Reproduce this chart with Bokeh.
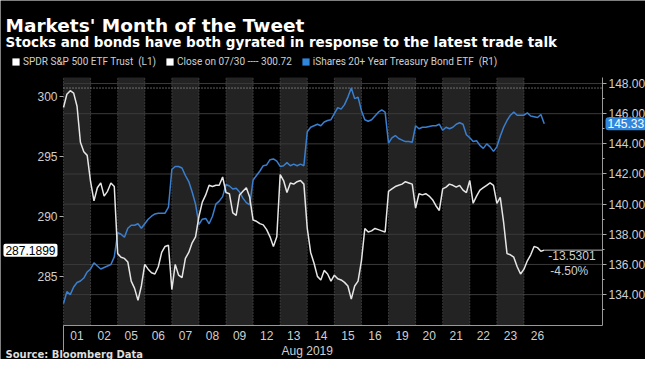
from bokeh.plotting import figure
from bokeh.models import (Range1d, LinearAxis, FixedTicker, BoxAnnotation, Label, Legend,
                          LegendItem, NumeralTickFormatter)
from bokeh.core.properties import value
from bokeh.embed import file_html
from bokeh.resources import INLINE

# ---------------- data ----------------
days = ["01", "02", "05", "06", "07", "08", "09", "12", "13", "14",
        "15", "16", "19", "20", "21", "22", "23", "26"]
month_label = "Aug 2019"
pts_per_day = 8          # intraday samples per trading day

# SPDR S&P 500 ETF Trust (left axis), 8 samples per day, last day partial
spy = [
    299.1, 300.2, 300.5, 300.3, 299.2, 296.2, 295.4, 295.1,   # 01
    292.9, 291.3, 292.4, 292.8, 291.7, 292.1, 292.8, 292.5,   # 02
    286.9, 286.6, 286.5, 286.2, 284.6, 284.0, 283.0, 284.2,   # 05
    286.0, 285.6, 285.3, 285.2, 285.8, 287.0, 287.5, 287.6,   # 06
    283.9, 286.0, 285.1, 284.9, 286.5, 287.0, 287.8, 288.3,   # 07
    290.0, 291.2, 291.8, 292.6, 292.5, 292.6, 292.6, 293.3,   # 08
    292.0, 291.9, 290.3, 290.1, 291.8, 292.1, 292.4, 291.6,   # 09
    289.7, 289.6, 289.4, 289.3, 288.9, 288.3, 287.5, 288.3,   # 12
    293.5, 293.0, 292.0, 292.8, 292.7, 292.9, 293.0, 292.7,   # 13
    289.0, 287.0, 286.1, 285.0, 284.7, 285.5, 285.2, 284.6,   # 14
    285.1, 284.8, 284.7, 284.5, 284.2, 283.1, 284.2, 284.6,   # 15
    286.3, 289.0, 288.7, 288.8, 289.0, 288.9, 288.8, 288.7,   # 16
    292.1, 292.3, 292.5, 292.6, 292.7, 292.9, 292.8, 292.7,   # 19
    290.7, 291.9, 291.8, 291.9, 291.7, 291.4, 290.9, 290.5,   # 20
    292.3, 292.45, 292.7, 292.6, 292.45, 292.6, 292.2, 292.0, # 21
    293.0, 291.1, 291.7, 292.2, 292.4, 292.6, 292.8, 292.6,   # 22
    291.1, 291.6, 289.5, 286.9, 286.8, 286.6, 285.8, 285.2,   # 23
    285.6, 286.3, 286.8, 287.5, 287.4, 287.1, 287.1899,       # 26
]

# iShares 20+ Year Treasury Bond ETF (right axis)
tlt = [
    133.4, 134.2, 134.0, 134.5, 134.8, 134.9, 135.1, 135.5,   # 01
    135.7, 136.1, 135.9, 135.7, 135.8, 135.9, 136.0, 136.5,   # 02
    138.1, 138.0, 137.8, 138.4, 138.6, 138.6, 138.7, 138.4,   # 05
    138.7, 139.0, 139.2, 139.35, 139.4, 139.4, 139.4, 139.8,  # 06
    142.3, 142.5, 142.5, 142.4, 141.9, 141.5, 140.8, 140.0,   # 07
    138.65, 139.0, 139.05, 138.7, 139.2, 140.0, 140.2, 140.5, # 08
    141.3, 141.2, 141.0, 141.05, 140.8, 140.4, 140.1, 139.95, # 09
    141.6, 141.9, 142.2, 142.55, 142.6, 142.95, 143.0, 142.85, # 12
    142.5, 142.55, 142.75, 142.55, 142.65, 142.55, 142.65, 142.55, # 13
    144.8, 145.1, 145.2, 145.3, 145.2, 145.45, 145.55, 145.6, # 14
    146.0, 146.4, 146.3, 146.6, 147.1, 147.7, 147.0, 147.1,   # 15
    146.2, 145.6, 145.5, 145.6, 145.85, 146.1, 146.25, 146.1, # 16
    144.05, 144.4, 144.55, 144.35, 144.25, 144.15, 144.15, 144.1, # 19
    145.2, 145.0, 145.1, 145.1, 145.15, 145.2, 145.2, 145.3,  # 20
    144.9, 145.1, 145.0, 145.1, 145.3, 145.4, 145.3, 144.6,   # 21
    144.4, 144.15, 144.2, 143.9, 143.7, 144.0, 143.8, 143.5,  # 22
    143.8, 144.5, 145.1, 145.55, 145.9, 146.1, 145.9, 145.9,  # 23
    145.9, 146.05, 145.85, 145.8, 145.75, 145.95, 145.33,     # 26
]

close_ref = 300.72
close_label = "Close on 07/30 ---- 300.72"
spy_label = "SPDR S&P 500 ETF Trust  (L1)"
tlt_label = "iShares 20+ Year Treasury Bond ETF  (R1)"
left_ticks = [285, 290, 295, 300]
right_ticks = [134, 136, 138, 140, 142, 144, 146, 148]
right_minor = [133, 135, 137, 139, 141, 143, 145, 147]

title_text = "Markets' Month of the Tweet"
subtitle_text = "Stocks and bonds have both gyrated in response to the latest trade talk"
source_text = "Source: Bloomberg Data"

# ---------------- layout (pixels) ----------------
W, H = 645, 359
X0, X1, Y0, Y1 = 63, 602, 77, 325          # plot area inside the canvas
xl, xh = 0, 19.9                            # day-index extent of plot area
ll, lh = 280.9, 301.6                       # left axis extent
rl, rh = 131.95, 148.4                      # right axis extent
kx = (xh - xl) / (X1 - X0)
kl = (lh - ll) / (Y1 - Y0)
kr = (rh - rl) / (Y1 - Y0)

# ---------------- derived ----------------
x = [i // pts_per_day + (i % pts_per_day) / pts_per_day for i in range(len(spy))]
last_x, last_spy, last_tlt = x[-1], spy[-1], tlt[-1]
diff = last_spy - close_ref
pct = diff / close_ref * 100
n = len(days)
NaN = float("nan")

WHITE = "#e6e6e6"
BLUE = "#3a7fcf"
TXT = "#cfcfcf"
TICKFONT = "Liberation Sans"

p = figure(width=W, height=H, output_backend="svg", toolbar_location=None, title=None,
           x_range=Range1d(xl - X0 * kx, xh + (W - X1) * kx),
           y_range=Range1d(ll - (H - Y1) * kl, lh + Y0 * kl),
           min_border=0, background_fill_color="black", border_fill_color="black",
           outline_line_color=None)
p.extra_y_ranges = {"r": Range1d(rl - (H - Y1) * kr, rh + Y0 * kr)}
p.grid.visible = False

# alternating day bands
for i in range(0, n, 2):
    p.add_layout(BoxAnnotation(left=i, right=i + 1, bottom=ll, top=lh, fill_color="#232323",
                               fill_alpha=1.0, line_color=None, level="underlay"))

# horizontal grid on right-axis ticks, vertical dotted day separators
p.segment(x0=[xl] * len(right_ticks), x1=[xh] * len(right_ticks), y0=right_ticks,
          y1=right_ticks, y_range_name="r", line_color="#3a3a3a", line_width=1)
p.segment(x0=list(range(n)), x1=list(range(n)), y0=[ll] * n, y1=[lh] * n,
          line_color="#5a5a5a", line_dash="1 2", line_width=1)

# close reference line
p.segment(x0=[xl], x1=[xh], y0=[close_ref], y1=[close_ref], line_color="#bdbdbd",
          line_dash="1 2", line_width=1)

# series
p.line(x, tlt, y_range_name="r", line_color=BLUE, line_width=1.5)
p.line(x, spy, line_color=WHITE, line_width=1.5)

# change annotation
p.segment(x0=[last_x], x1=[xh], y0=[last_spy], y1=[last_spy], line_color="#bbbbbb", line_width=1)
p.text(x=[last_x], y=[last_spy], text=[f"{diff:.4f}"], x_offset=4, y_offset=1,
       text_baseline="top", text_align="left", text_color=TXT, text_font_size="12px",
       text_font=value(TICKFONT))
p.text(x=[last_x], y=[last_spy], text=[f"{pct:.2f}%"], x_offset=6, y_offset=14,
       text_baseline="top", text_align="left", text_color=TXT, text_font_size="12px",
       text_font=value(TICKFONT))

# x axis (fixed at the plot bottom)
xa = p.xaxis[0]
xa.fixed_location = ll
xa.bounds = (xl, xh)
xa.ticker = FixedTicker(ticks=[i + 0.5 for i in range(n)])
xa.major_label_overrides = {i + 0.5: d for i, d in enumerate(days)}
xa.major_tick_out = 0
xa.major_tick_in = 0
xa.minor_tick_out = 0
xa.minor_tick_in = 0
xa.axis_line_color = "#999999"
xa.major_label_text_color = TXT
xa.major_label_text_font = TICKFONT
xa.major_label_text_font_size = "12px"
xa.major_label_standoff = 5

# long month-start tick
mt = LinearAxis(fixed_location=ll, bounds=(xl, xh), ticker=FixedTicker(ticks=[xl]),
                major_label_overrides={xl: ""}, major_tick_out=26, major_tick_in=0,
                minor_tick_out=0, axis_line_color=None, major_tick_line_color="#999999")
p.add_layout(mt, "below")

# left axis
ya = p.yaxis[0]
ya.fixed_location = xl
ya.bounds = (ll, lh)
ya.ticker = FixedTicker(ticks=left_ticks)
ya.axis_line_color = None
ya.major_tick_out = 4
ya.major_tick_in = 0
ya.minor_tick_out = 0
ya.major_tick_line_color = "#aaaaaa"
ya.major_label_text_color = TXT
ya.major_label_text_font = TICKFONT
ya.major_label_text_font_size = "12px"
ya.major_label_standoff = 2

# right axis
ra = LinearAxis(y_range_name="r", fixed_location=xh, bounds=(rl, rh),
                ticker=FixedTicker(ticks=right_ticks, minor_ticks=right_minor),
                formatter=NumeralTickFormatter(format="0.00"))
ra.axis_line_color = "#999999"
ra.major_tick_out = 4
ra.major_tick_in = 0
ra.minor_tick_out = 2
ra.minor_tick_in = 0
ra.major_tick_line_color = "#aaaaaa"
ra.minor_tick_line_color = "#aaaaaa"
ra.major_label_text_color = TXT
ra.major_label_text_font = TICKFONT
ra.major_label_text_font_size = "12px"
ra.major_label_standoff = 2
p.add_layout(ra, "right")

# legend (square swatches; placeholder NaN rows draw nothing in the plot)
sw_spy = p.quad(left=[NaN], right=[NaN], top=[NaN], bottom=[NaN], fill_color="#ffffff", line_color=None)
sw_close = p.quad(left=[NaN], right=[NaN], top=[NaN], bottom=[NaN], fill_color="#ffffff", line_color=None)
sw_tlt = p.quad(left=[NaN], right=[NaN], top=[NaN], bottom=[NaN], fill_color="#2f86dc", line_color=None)
legend = Legend(items=[
    LegendItem(label=spy_label, renderers=[sw_spy]),
    LegendItem(label=close_label, renderers=[sw_close]),
    LegendItem(label=tlt_label, renderers=[sw_tlt]),
], orientation="horizontal", location=(11, H - 67), background_fill_alpha=0,
   border_line_color=None, label_text_color=TXT, label_text_font="Roboto",
   label_text_font_size="10px", glyph_width=9, glyph_height=9, spacing=9,
   label_standoff=3, padding=0, margin=0, label_height=12)
p.add_layout(legend)

# value tags
p.add_layout(Label(x=X0 - 6, x_units="screen", y=last_spy, y_units="data", text=f"{last_spy:.4f}",
                   text_align="right", text_baseline="middle", text_color="black",
                   text_font=TICKFONT, text_font_size="12px", background_fill_color="white",
                   padding=2, border_radius=2))
p.add_layout(Label(x=X1 + 3, x_units="screen", y=last_tlt, y_units="data", y_range_name="r",
                   text=f"{last_tlt:.2f}", text_align="left", text_baseline="middle",
                   text_color="white", text_font=TICKFONT, text_font_size="12px",
                   background_fill_color="#2f86dc", padding=2, border_radius=3))

# titles and notes (screen y measured up from the canvas bottom)
p.add_layout(Label(x=5, y=H - 25, x_units="screen", y_units="screen", text=title_text,
                   text_font="DejaVu Sans", text_font_style="bold", text_font_size="18.5px",
                   text_color="white", text_baseline="alphabetic"))
p.add_layout(Label(x=5, y=H - 41, x_units="screen", y_units="screen", text=subtitle_text,
                   text_font="DejaVu Sans", text_font_style="bold", text_font_size="13.5px",
                   text_color="white", text_baseline="alphabetic"))
p.add_layout(Label(x=n / 2, x_units="data", y=H - 350, y_units="screen", text=month_label,
                   text_align="center", text_baseline="middle", text_color=TXT,
                   text_font=TICKFONT, text_font_size="12px"))
p.add_layout(Label(x=5, y=H - 354, x_units="screen", y_units="screen", text=source_text,
                   text_font="DejaVu Sans", text_font_style="bold", text_font_size="10px",
                   text_color="#dddddd", text_baseline="alphabetic"))

open("out.html", "w").write(file_html(p, INLINE))
